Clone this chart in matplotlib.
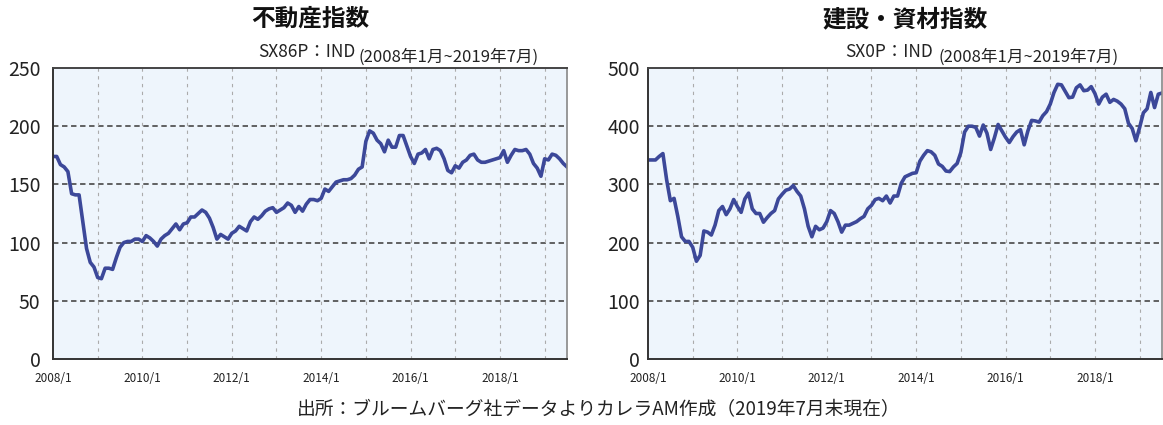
import numpy as np
import matplotlib
matplotlib.use("Agg")
import matplotlib.pyplot as plt

plt.rcParams['font.family'] = ['Noto Sans CJK JP', 'DejaVu Sans']

# monthly values, 2008/1 .. 2019/7
realestate = [
    174, 174, 167, 165, 161, 142, 141, 141, 118, 95,
    83, 79, 70, 69, 78, 78, 77, 87, 96, 100,
    101, 101, 103, 103, 101, 106, 104, 101, 97, 103,
    106, 108, 112, 116, 111, 116, 117, 122, 122, 125,
    128, 126, 121, 113, 103, 107, 105, 103, 108, 110,
    114, 112, 110, 118, 122, 120, 123, 127, 129, 130,
    126, 128, 130, 134, 132, 126, 131, 127, 133, 137,
    137, 136, 138, 146, 144, 148, 152, 153, 154, 154,
    155, 158, 163, 165, 187, 196, 194, 188, 185, 178,
    188, 182, 182, 192, 192, 183, 174, 168, 176, 177,
    180, 172, 180, 181, 179, 172, 162, 160, 166, 164,
    169, 171, 175, 176, 171, 169, 169, 170, 171, 172,
    173, 179, 169, 175, 180, 179, 179, 180, 176, 168,
    164, 157, 172, 171, 176, 175, 172, 168, 165,
]
construction = [
    342, 342, 342, 348, 353, 308, 272, 276, 245, 210,
    202, 202, 192, 168, 178, 220, 218, 213, 230, 255,
    262, 248, 258, 274, 262, 252, 275, 285, 258, 250,
    250, 235, 243, 250, 255, 275, 283, 290, 292, 298,
    288, 280, 258, 228, 210, 228, 222, 225, 236, 255,
    250, 236, 218, 230, 230, 233, 236, 241, 245, 258,
    264, 274, 276, 272, 280, 268, 280, 280, 302, 313,
    316, 319, 320, 340, 350, 358, 356, 350, 335, 331,
    323, 322, 330, 336, 355, 390, 400, 400, 398, 383,
    402, 388, 360, 380, 403, 392, 381, 372, 382, 390,
    394, 368, 392, 410, 409, 407, 418, 425, 438, 458,
    472, 471, 460, 449, 450, 466, 471, 461, 462, 468,
    456, 438, 450, 455, 441, 446, 443, 438, 430, 405,
    396, 375, 398, 423, 430, 458, 432, 455, 457,
]
months = np.arange(len(realestate))
years = 2008 + months / 12.0

titles = ['不動産指数', '建設・資材指数']
codes = ['SX86P：IND', 'SX0P：IND']
period = '(2008年1月~2019年7月)'
tick_years = list(range(2009, 2020))
label_years = [2008, 2010, 2012, 2014, 2016, 2018]
footer = '出所：ブルームバーグ社データよりカレラAM作成（2019年7月末現在）'

W, H = 1163, 425
fig = plt.figure(figsize=(W / 100, H / 100), dpi=100)

line_color = '#3C4899'
bg_color = '#EEF5FC'

panels = [
    dict(data=realestate, ymax=250, step=50, left=53, right=567,
         code_right=355, period_left=359, ypad=9),
    dict(data=construction, ymax=500, step=100, left=648, right=1162,
         code_right=933, period_left=939, ypad=6),
]
top, bottom = 68, 359

for i, p in enumerate(panels):
    ax = fig.add_axes([p['left'] / W, 1 - bottom / H,
                       (p['right'] - p['left']) / W, (bottom - top) / H])
    ax.set_facecolor(bg_color)
    ax.plot(years, p['data'], color=line_color, lw=2.6, solid_joinstyle='round')
    ax.set_xlim(2008, years[-1])
    ax.set_ylim(0, p['ymax'])

    yt = np.arange(0, p['ymax'] + 1, p['step'])
    ax.set_yticks(yt)
    ax.set_yticklabels([str(v) for v in yt], fontsize=14, color='#222222')
    for v in yt[1:-1]:
        ax.axhline(v, color='#555555', lw=1.3, ls=(0, (3, 2)), zorder=1)

    for yr in tick_years:
        ax.axvline(yr, color='#ababab', lw=0.8, ls=(0, (3, 4)), zorder=1)
    ax.set_xticks(label_years)
    ax.set_xticklabels([f'{y}/1' for y in label_years], fontsize=8.5,
                       color='#222222')
    ax.tick_params(axis='both', length=0)
    ax.tick_params(axis='y', pad=p['ypad'])
    ax.tick_params(axis='x', pad=9)

    ax.spines['left'].set_color('#333333')
    ax.spines['left'].set_linewidth(1.4)
    ax.spines['bottom'].set_color('#333333')
    ax.spines['bottom'].set_linewidth(1.4)
    ax.spines['top'].set_color('#444444')
    ax.spines['top'].set_linewidth(1.4)
    ax.spines['top'].set_linestyle((0, (3, 1)))
    ax.spines['right'].set_color('#888888')
    ax.spines['right'].set_linewidth(1.2)

    cx = (p['left'] + p['right']) / 2 / W
    fig.text(cx, 1 - 19 / H, titles[i], ha='center', va='center',
             fontsize=17, fontweight='bold', color='#111111')
    fig.text(p['code_right'] / W, 1 - 52 / H, codes[i], ha='right',
             va='center', fontsize=12.5, color='#222222')
    fig.text(p['period_left'] / W, 1 - 57 / H, period, ha='left',
             va='center', fontsize=12, color='#222222')

fig.text(0.515, 1 - 410 / H, footer, ha='center', va='center',
         fontsize=13.5, color='#222222')

fig.savefig('out.png', dpi=100)
